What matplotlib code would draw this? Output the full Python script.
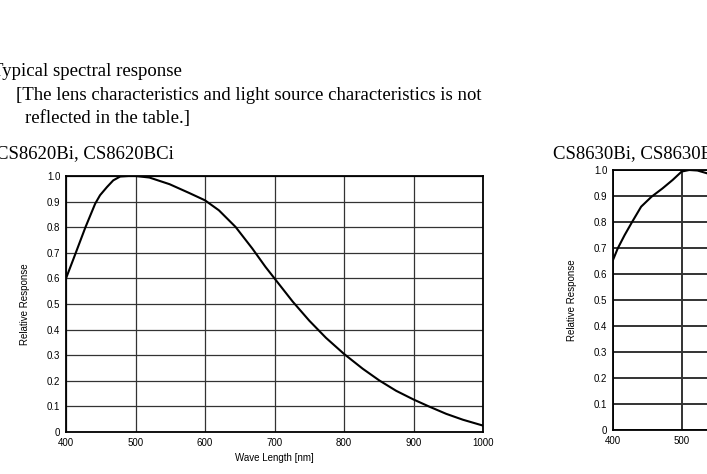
import matplotlib.pyplot as plt

W, H = 707, 474

# CS8620Bi / CS8620BCi spectral response
wl_8620 = [400, 411, 428, 442, 449, 459, 468, 478, 490, 500, 520, 549, 577, 600, 620, 644,
           668, 687, 700, 726, 750, 774, 800, 827, 851, 875, 900, 922, 947, 971, 1000]
resp_8620 = [0.60, 0.678, 0.800, 0.892, 0.925, 0.957, 0.983, 0.998, 1.0, 1.0, 0.994, 0.968,
             0.934, 0.905, 0.866, 0.801, 0.717, 0.645, 0.60, 0.510, 0.435, 0.368, 0.305, 0.247,
             0.201, 0.161, 0.127, 0.10, 0.071, 0.048, 0.025]

# CS8630Bi / CS8630BCi spectral response (visible part only)
wl_8630 = [400, 407, 417, 428, 441, 456, 472, 487, 500, 511, 523, 540]
resp_8630 = [0.654, 0.699, 0.75, 0.801, 0.859, 0.897, 0.929, 0.962, 0.994, 1.0, 0.998, 0.985]

x_ticks = [400, 500, 600, 700, 800, 900, 1000]
y_ticks = [0, 0.1, 0.2, 0.3, 0.4, 0.5, 0.6, 0.7, 0.8, 0.9, 1.0]
y_labels = ['0', '0.1', '0.2', '0.3', '0.4', '0.5', '0.6', '0.7', '0.8', '0.9', '1.0']

fig = plt.figure(figsize=(W / 100, H / 100), dpi=100)
serif = 'Liberation Serif'
sans = 'Liberation Sans'


def px_axes(left, top, right, bottom):
    return fig.add_axes([left / W, (H - bottom) / H, (right - left) / W, (bottom - top) / H])


def setup(ax, wl, resp, lw_grid):
    ax.plot(wl, resp, color='black', lw=1.5, solid_joinstyle='round')
    ax.set_xlim(400, 1000)
    ax.set_ylim(0, 1.0)
    ax.set_xticks(x_ticks)
    ax.set_yticks(y_ticks)
    ax.set_yticklabels(y_labels)
    ax.grid(True, color='#333333', lw=lw_grid)
    ax.tick_params(length=0, labelsize=7, pad=4)
    for lab in ax.get_xticklabels() + ax.get_yticklabels():
        lab.set_family(sans)
    for s in ax.spines.values():
        s.set_linewidth(1.3)
    ax.set_ylabel('Relative Response', fontsize=7, family=sans, labelpad=12)


ax1 = px_axes(66, 176, 483, 432)
setup(ax1, wl_8620, resp_8620, 0.9)
ax1.set_xlabel('Wave Length [nm]', fontsize=7, family=sans, labelpad=4)

ax2 = px_axes(613, 170, 1025, 430)
setup(ax2, wl_8630, resp_8630, 1.4)

fs = 13.5
fig.text(-8 / W, 1 - 76 / H, 'Typical spectral response', family=serif, fontsize=fs, va='baseline')
fig.text(16 / W, 1 - 100 / H, '[The lens characteristics and light source characteristics is not',
         family=serif, fontsize=fs, va='baseline')
fig.text(25 / W, 1 - 123 / H, 'reflected in the table.]', family=serif, fontsize=fs, va='baseline')
fig.text(-4 / W, 1 - 158 / H, 'CS8620Bi, CS8620BCi', family=serif, fontsize=fs, va='baseline')
fig.text(553 / W, 1 - 158 / H, 'CS8630Bi, CS8630BCi', family=serif, fontsize=fs, va='baseline')

fig.savefig('out.png', dpi=100)
